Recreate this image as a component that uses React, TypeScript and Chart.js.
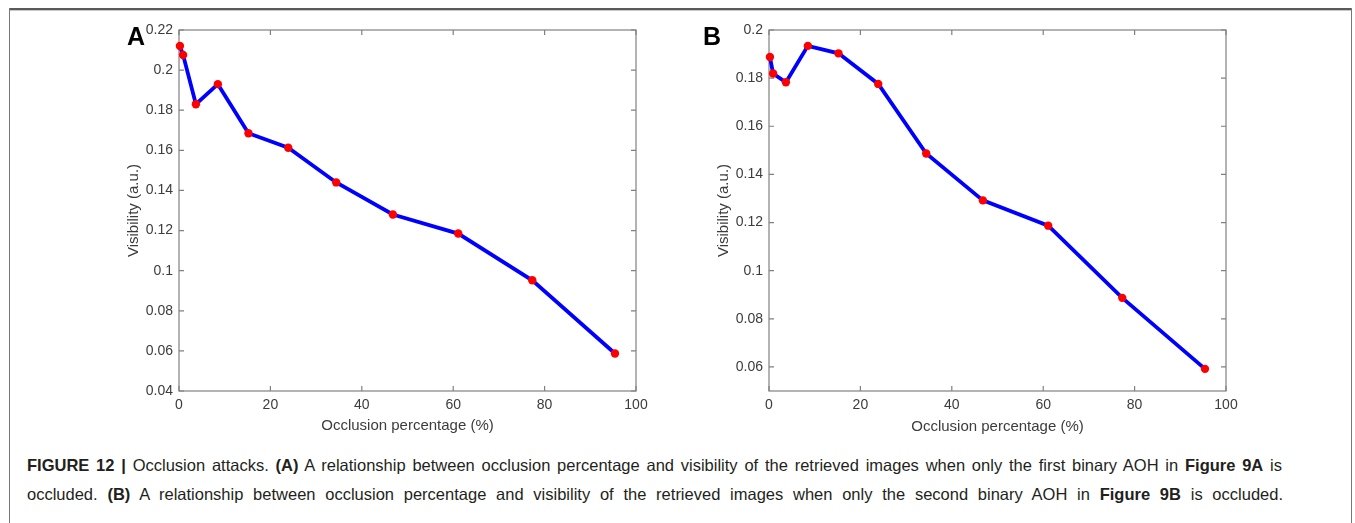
import React, { useEffect, useLayoutEffect, useRef } from 'react';
import { Chart, registerables } from 'chart.js';

Chart.register(...registerables);

// ---------- data ----------
const occlusionPct = [0.2, 0.9, 3.7, 8.5, 15.2, 23.9, 34.4, 46.8, 61.1, 77.3, 95.4];
const visibilityA = [0.212, 0.2075, 0.183, 0.193, 0.1685, 0.1613, 0.144, 0.128, 0.1185, 0.0952, 0.0587];
const visibilityB = [0.1888, 0.1819, 0.1783, 0.1934, 0.1903, 0.1776, 0.1487, 0.1292, 0.1187, 0.0887, 0.0592];
const xTicks = [0, 20, 40, 60, 80, 100];
const yTicksA = [0.04, 0.06, 0.08, 0.1, 0.12, 0.14, 0.16, 0.18, 0.2, 0.22];
const yTicksB = [0.06, 0.08, 0.1, 0.12, 0.14, 0.16, 0.18, 0.2];
const yRangeA = [0.04, 0.22];
const yRangeB = [0.05, 0.2];
const xTitle = 'Occlusion percentage (%)';
const yTitle = 'Visibility (a.u.)';

const FONT = '"Liberation Sans", Arial, Helvetica, sans-serif';

const boxPlugin = {
  id: 'matlabBox',
  beforeDatasetsDraw(chart: any) {
    const { ctx, chartArea: ca, scales } = chart;
    const tl = 5;
    ctx.save();
    ctx.strokeStyle = '#808080';
    ctx.lineWidth = 1.2;
    ctx.strokeRect(ca.left, ca.top, ca.right - ca.left, ca.bottom - ca.top);
    ctx.beginPath();
    for (const t of scales.x.ticks) {
      const px = scales.x.getPixelForValue(t.value);
      ctx.moveTo(px, ca.bottom);
      ctx.lineTo(px, ca.bottom - tl);
      ctx.moveTo(px, ca.top);
      ctx.lineTo(px, ca.top + tl);
    }
    for (const t of scales.y.ticks) {
      const py = scales.y.getPixelForValue(t.value);
      ctx.moveTo(ca.left, py);
      ctx.lineTo(ca.left + tl, py);
      ctx.moveTo(ca.right, py);
      ctx.lineTo(ca.right - tl, py);
    }
    ctx.stroke();
    ctx.restore();
  },
};

function Panel(props: {
  values: number[];
  yTicks: number[];
  yRange: number[];
  left: number;
  height: number;
}) {
  const ref = useRef<HTMLCanvasElement>(null);
  useEffect(() => {
    if (!ref.current) return;
    const chart = new Chart(ref.current, {
      type: 'line',
      data: {
        datasets: [
          {
            data: occlusionPct.map((x, i) => ({ x, y: props.values[i] })),
            borderColor: '#0000ff',
            borderWidth: 3.8,
            pointBackgroundColor: '#ff0000',
            pointBorderWidth: 0,
            pointRadius: 4.2,
            tension: 0,
            clip: false as any,
          },
        ],
      },
      options: {
        animation: false,
        responsive: false,
        devicePixelRatio: 1,
        layout: { padding: { top: 30, right: 34, left: 0, bottom: 0 } },
        plugins: { legend: { display: false }, tooltip: { enabled: false } },
        scales: {
          x: {
            type: 'linear',
            min: 0,
            max: 100,
            afterBuildTicks: (s: any) => {
              s.ticks = xTicks.map((v) => ({ value: v }));
            },
            afterFit: (s: any) => {
              s.height = props.height - 391;
            },
            grid: { display: false, drawTicks: false },
            border: { display: false },
            ticks: {
              color: '#3c3c3c',
              font: { family: FONT, size: 14 },
              padding: 6,
              maxRotation: 0,
              autoSkip: false,
            },
            title: {
              display: true,
              text: xTitle,
              color: '#3c3c3c',
              font: { family: FONT, size: 15 },
              padding: { top: 0, bottom: 15 },
            },
          },
          y: {
            type: 'linear',
            min: props.yRange[0],
            max: props.yRange[1],
            afterBuildTicks: (s: any) => {
              s.ticks = props.yTicks.map((v) => ({ value: v }));
            },
            afterFit: (s: any) => {
              s.width = 69;
            },
            grid: { display: false, drawTicks: false },
            border: { display: false },
            ticks: {
              color: '#3c3c3c',
              font: { family: FONT, size: 14 },
              padding: 6,
              autoSkip: false,
              callback: (v: any) => String(Number(Number(v).toFixed(2))),
            },
            title: {
              display: true,
              text: yTitle,
              color: '#3c3c3c',
              font: { family: FONT, size: 15 },
              padding: { top: 15, bottom: 0 },
            },
          },
        },
      },
      plugins: [boxPlugin],
    });
    return () => chart.destroy();
  }, []);
  return (
    <canvas
      ref={ref}
      width={560}
      height={props.height}
      style={{ position: 'absolute', left: props.left, top: 0, width: 560, height: props.height }}
    />
  );
}

function JustLine(props: { children: React.ReactNode; width: number; top: number }) {
  const ref = useRef<HTMLSpanElement>(null);
  useLayoutEffect(() => {
    const el = ref.current;
    if (!el) return;
    el.style.wordSpacing = '0px';
    el.style.letterSpacing = '0px';
    const w = el.getBoundingClientRect().width;
    const txt = el.textContent || '';
    const spaces = (txt.match(/ /g) || []).length;
    if (w < props.width && spaces) {
      el.style.wordSpacing = (props.width - w) / spaces + 'px';
    } else if (w > props.width) {
      el.style.letterSpacing = -(w - props.width) / txt.length + 'px';
    }
  }, []);
  return (
    <span
      ref={ref}
      style={{
        position: 'absolute',
        left: 27,
        top: props.top,
        whiteSpace: 'pre',
        fontFamily: FONT,
        fontSize: 16.5,
        lineHeight: '18px',
        color: '#231f20',
      }}
    >
      {props.children}
    </span>
  );
}

export default function App() {
  return (
    <div
      style={{
        position: 'absolute',
        left: 0,
        top: 0,
        width: 1355,
        height: 523,
        background: '#fff',
        overflow: 'hidden',
      }}
    >
      {/* frame */}
      <div style={{ position: 'absolute', left: 9, top: 8, width: 1343, height: 2, background: '#5a5a5a' }} />
      <div style={{ position: 'absolute', left: 9, top: 10, width: 1343, height: 1, background: '#c8c8c8' }} />
      <div style={{ position: 'absolute', left: 9, top: 8, width: 1, height: 520, background: '#777' }} />
      <div style={{ position: 'absolute', left: 1351, top: 8, width: 1, height: 520, background: '#777' }} />

      <Panel values={visibilityA} yTicks={yTicksA} yRange={yRangeA} left={110} height={450} />
      <Panel values={visibilityB} yTicks={yTicksB} yRange={yRangeB} left={700} height={451} />

      <div style={{ position: 'absolute', left: 127, top: 24, fontFamily: FONT, fontWeight: 'bold', fontSize: 25, lineHeight: '25px', color: '#000' }}>A</div>
      <div style={{ position: 'absolute', left: 703, top: 24, fontFamily: FONT, fontWeight: 'bold', fontSize: 25, lineHeight: '25px', color: '#000' }}>B</div>

      <JustLine width={1255} top={456}>
        <b>FIGURE 12 | </b>Occlusion attacks. <b>(A)</b> A relationship between occlusion percentage and visibility of the retrieved images when only the first binary AOH in <b>Figure 9A</b> is
      </JustLine>
      <JustLine width={1256} top={485}>
        occluded. <b>(B)</b> A relationship between occlusion percentage and visibility of the retrieved images when only the second binary AOH in <b>Figure 9B</b> is occluded.
      </JustLine>
    </div>
  );
}
